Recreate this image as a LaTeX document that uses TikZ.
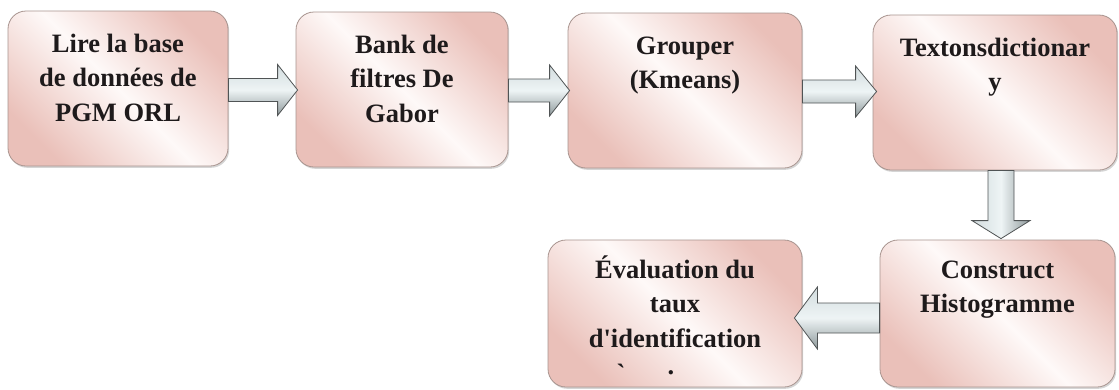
\documentclass[tikz,border=0pt]{standalone}
\usepackage{fontspec}
\setmainfont{Liberation Serif}[BoldFont={Liberation Serif Bold}]
\usetikzlibrary{calc,shadows}

\definecolor{rosedge}{HTML}{EAC0B9}
\definecolor{rosemid}{HTML}{FEF9F8}
\definecolor{boxline}{HTML}{A8948F}
\definecolor{arrowlight}{HTML}{EEF4F5}
\definecolor{arrowmid}{HTML}{D2DCDE}
\definecolor{arrowdark}{HTML}{8E999B}
\definecolor{arrowline}{HTML}{505455}
\definecolor{inktext}{HTML}{1E1A1B}

\tikzset{
  stepbox/.style={rectangle, rounded corners=18pt, draw=boxline, line width=0.8pt,
    top color=rosedge, bottom color=rosedge, middle color=rosemid, shading angle=-45,
    inner sep=0pt, text=inktext,
    font=\fontsize{26.5}{34.5}\selectfont\bfseries,
    drop shadow={shadow xshift=1.2pt, shadow yshift=-1.8pt, opacity=0.3, fill=black!55}},
  flowarrow/.style={draw=arrowline, line width=0.8pt, line join=miter,
    top color=arrowmid, bottom color=arrowdark, middle color=arrowlight},
  flowarrowv/.style={draw=arrowline, line width=0.8pt, line join=miter,
    left color=arrowmid, right color=arrowdark, middle color=arrowlight},
  glyphmark/.style={inner sep=0pt, text=inktext, font=\fontsize{26.5}{34.5}\selectfont\bfseries}
}

\begin{document}
\begin{tikzpicture}[x=1pt, y=-1pt]
  \useasboundingbox (0,0) rectangle (1119,389);

  % process steps
  \node[stepbox] (b1) at (118,88.5)
    {\parbox[c][155pt][t]{220pt}{\centering\rule{0pt}{41pt}Lire la base\\de données de\\PGM ORL}};
  \node[stepbox] (b2) at (402,89.5)
    {\parbox[c][155pt][t]{212pt}{\centering\rule{0pt}{41pt}Bank de\\filtres De\\Gabor}};
  \node[stepbox] (b3) at (685,90.5)
    {\parbox[c][155pt][t]{234pt}{\centering\rule{0pt}{41pt}Grouper\\(Kmeans)}};
  \node[stepbox] (b4) at (995,92.5)
    {\parbox[c][155pt][t]{244pt}{\centering\rule{0pt}{41pt}Textonsdictionar\\y}};
  \node[stepbox] (b5) at (997.5,313.5)
    {\parbox[c][147pt][t]{235pt}{\centering\rule{0pt}{38pt}Construct\\Histogramme}};
  \node[stepbox] (b6) at (675,313.5)
    {\parbox[c][147pt][t]{254pt}{\centering\rule{0pt}{38pt}Évaluation du\\taux\\d\textquotesingle identification}};

  % remnants of the clipped last line
  \node[glyphmark] (m1) at (621,373) {\textasciigrave};
  \node[glyphmark] (m2) at (671,373) {.};

  % horizontal block arrows along the top row
  \path[flowarrow] let \p1=($(b1.east)+(0,1.5)$), \p2=(b2.west) in
    (\x1,\y1+11.5pt) -- (\x2-18pt,\y1+11.5pt) -- (\x2-18pt,\y1+25.5pt) -- (\x2+2pt,\y1)
    -- (\x2-18pt,\y1-25.5pt) -- (\x2-18pt,\y1-11.5pt) -- (\x1,\y1-11.5pt) -- cycle;
  \path[flowarrow] let \p1=($(b2.east)+(0,1)$), \p2=(b3.west) in
    (\x1,\y1+11.5pt) -- (\x2-18pt,\y1+11.5pt) -- (\x2-18pt,\y1+25.5pt) -- (\x2+2pt,\y1)
    -- (\x2-18pt,\y1-25.5pt) -- (\x2-18pt,\y1-11.5pt) -- (\x1,\y1-11.5pt) -- cycle;
  \path[flowarrow] let \p1=($(b3.east)+(0,1)$), \p2=(b4.west) in
    (\x1,\y1+11.5pt) -- (\x2-17pt,\y1+11.5pt) -- (\x2-17pt,\y1+25.5pt) -- (\x2+4pt,\y1)
    -- (\x2-17pt,\y1-25.5pt) -- (\x2-17pt,\y1-11.5pt) -- (\x1,\y1-11.5pt) -- cycle;

  % downward arrow into the second row
  \path[flowarrowv] let \p1=($(b4.south)+(6,0)$), \p2=(b5.north) in
    (\x1-13pt,\y1) -- (\x1-13pt,\y2+19pt) -- (\x1-29pt,\y2+19pt) -- (\x1,\y2+1pt)
    -- (\x1+29pt,\y2+19pt) -- (\x1+13pt,\y2+19pt) -- (\x1+13pt,\y1) -- cycle;

  % leftward arrow to the last step
  \path[flowarrow] let \p1=($(b5.west)+(0,4.5)$), \p2=(b6.east) in
    (\x1,\y1+15pt) -- (\x2+15pt,\y1+15pt) -- (\x2+15pt,\y1+31pt) -- (\x2-8pt,\y1)
    -- (\x2+15pt,\y1-31pt) -- (\x2+15pt,\y1-15pt) -- (\x1,\y1-15pt) -- cycle;
\end{tikzpicture}
\end{document}
